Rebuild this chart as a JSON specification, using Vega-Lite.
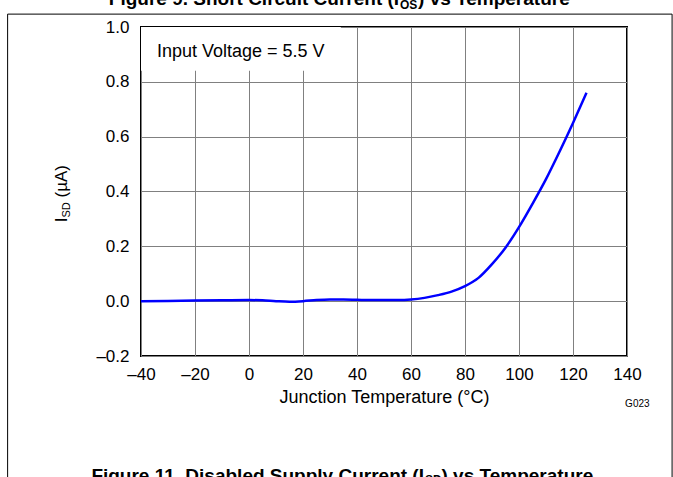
{
  "$schema": "https://vega.github.io/schema/vega-lite/v6.json",
  "autosize": {"type": "none"},
  "width": 486,
  "height": 329,
  "padding": {"left": 141, "top": 27, "right": 46, "bottom": 121},
  "background": "white",
  "config": {
    "view": {"stroke": "black", "strokeWidth": 2},
    "axis": {
      "grid": true, "gridColor": "#808080", "gridOpacity": 1, "gridWidth": 1,
      "ticks": false, "domain": false,
      "labelFont": "Liberation Sans", "labelFontSize": 17, "labelColor": "#000",
      "titleFont": "Liberation Sans", "titleFontSize": 18, "titleFontWeight": "normal", "titleColor": "#000",
      "labelOverlap": false, "labelFlush": false, "labelBound": false
    },
    "axisX": {"labelPadding": 10, "titlePadding": 6},
    "axisY": {"labelPadding": 12},
    "text": {"font": "Liberation Sans", "color": "#000"}
  },
  "data": {"values": [
    {"t": -40, "isd": 0.0},
    {"t": -30, "isd": 0.001},
    {"t": -20, "isd": 0.002},
    {"t": -10, "isd": 0.003},
    {"t": 0, "isd": 0.004},
    {"t": 5, "isd": 0.003},
    {"t": 10, "isd": 0.0},
    {"t": 15, "isd": -0.002},
    {"t": 20, "isd": 0.0},
    {"t": 25, "isd": 0.004},
    {"t": 30, "isd": 0.006},
    {"t": 35, "isd": 0.006},
    {"t": 40, "isd": 0.005},
    {"t": 45, "isd": 0.004},
    {"t": 50, "isd": 0.004},
    {"t": 55, "isd": 0.004},
    {"t": 60, "isd": 0.006},
    {"t": 65, "isd": 0.012},
    {"t": 70, "isd": 0.022},
    {"t": 75, "isd": 0.035},
    {"t": 80, "isd": 0.055},
    {"t": 85, "isd": 0.085},
    {"t": 90, "isd": 0.135},
    {"t": 95, "isd": 0.195},
    {"t": 100, "isd": 0.27},
    {"t": 105, "isd": 0.355},
    {"t": 110, "isd": 0.445},
    {"t": 115, "isd": 0.545},
    {"t": 120, "isd": 0.65},
    {"t": 125, "isd": 0.76}
  ]},
  "layer": [
    {
      "data": {"values": [{}]},
      "mark": {"type": "rect", "filled": false, "stroke": "black", "strokeWidth": 1},
      "encoding": {
        "x": {"datum": -89.4}, "x2": {"datum": 156.7},
        "y": {"datum": 1.047}, "y2": {"datum": -0.8}
      }
    },
    {
      "data": {"values": [{}]},
      "mark": {"type": "rect", "fill": "white", "stroke": null},
      "encoding": {
        "x": {"datum": -40}, "x2": {"datum": 34},
        "y": {"datum": 1.0}, "y2": {"datum": 0.84}
      }
    },
    {
      "mark": {"type": "line", "color": "#0000ff", "strokeWidth": 2.5, "interpolate": "monotone"},
      "encoding": {
        "x": {"field": "t", "type": "quantitative",
          "scale": {"domain": [-40, 140], "nice": false, "zero": false},
          "axis": {"values": [-40, -20, 0, 20, 40, 60, 80, 100, 120, 140], "title": "Junction Temperature (°C)",
            "labelExpr": "datum.value < 0 ? '–' + abs(datum.value) : '' + datum.value"}},
        "y": {"field": "isd", "type": "quantitative",
          "scale": {"domain": [-0.2, 1.0], "nice": false, "zero": false},
          "axis": {"values": [-0.2, 0, 0.2, 0.4, 0.6, 0.8, 1.0], "title": null,
            "labelExpr": "datum.value < 0 ? '–' + format(abs(datum.value), '.1f') : format(datum.value, '.1f')"}}
      }
    },
    {
      "data": {"values": [{}]},
      "mark": {"type": "text", "text": "Input Voltage = 5.5 V", "fontSize": 18, "align": "left", "baseline": "alphabetic"},
      "encoding": {"x": {"datum": -34.1}, "y": {"datum": 0.891}}
    },
    {
      "data": {"values": [{}]},
      "mark": {"type": "text", "text": "G023", "fontSize": 10, "align": "left", "baseline": "alphabetic"},
      "encoding": {"x": {"datum": 139.3}, "y": {"datum": -0.387}}
    },
    {
      "data": {"values": [{}]},
      "mark": {"type": "text", "text": "I", "fontSize": 17, "align": "left", "baseline": "alphabetic", "angle": 270},
      "encoding": {"x": {"datum": -67.4}, "y": {"datum": 0.288}}
    },
    {
      "data": {"values": [{}]},
      "mark": {"type": "text", "text": "SD", "fontSize": 11, "align": "left", "baseline": "alphabetic", "angle": 270},
      "encoding": {"x": {"datum": -66.3}, "y": {"datum": 0.305}}
    },
    {
      "data": {"values": [{}]},
      "mark": {"type": "text", "text": "(µA)", "fontSize": 17, "align": "left", "baseline": "alphabetic", "angle": 270},
      "encoding": {"x": {"datum": -67.4}, "y": {"datum": 0.378}}
    },
    {
      "data": {"values": [{}]},
      "mark": {"type": "text", "text": "Figure 9. Short Circuit Current (I", "fontSize": 19, "fontWeight": "bold", "align": "right", "baseline": "alphabetic"},
      "encoding": {"x": {"datum": 55.6}, "y": {"datum": 1.082}}
    },
    {
      "data": {"values": [{}]},
      "mark": {"type": "text", "text": "OS", "fontSize": 12, "fontWeight": "bold", "align": "left", "baseline": "alphabetic"},
      "encoding": {"x": {"datum": 55.9}, "y": {"datum": 1.067}}
    },
    {
      "data": {"values": [{}]},
      "mark": {"type": "text", "text": ") vs Temperature", "fontSize": 19, "fontWeight": "bold", "align": "left", "baseline": "alphabetic"},
      "encoding": {"x": {"datum": 62.6}, "y": {"datum": 1.082}}
    },
    {
      "data": {"values": [{}]},
      "mark": {"type": "text", "text": "Figure 11. Disabled Supply Current (I", "fontSize": 19, "fontWeight": "bold", "align": "right", "baseline": "alphabetic"},
      "encoding": {"x": {"datum": 64.8}, "y": {"datum": -0.659}}
    },
    {
      "data": {"values": [{}]},
      "mark": {"type": "text", "text": "SD", "fontSize": 12, "fontWeight": "bold", "align": "left", "baseline": "alphabetic"},
      "encoding": {"x": {"datum": 65.2}, "y": {"datum": -0.668}}
    },
    {
      "data": {"values": [{}]},
      "mark": {"type": "text", "text": ") vs Temperature", "fontSize": 19, "fontWeight": "bold", "align": "left", "baseline": "alphabetic"},
      "encoding": {"x": {"datum": 71.3}, "y": {"datum": -0.659}}
    }
  ]
}
